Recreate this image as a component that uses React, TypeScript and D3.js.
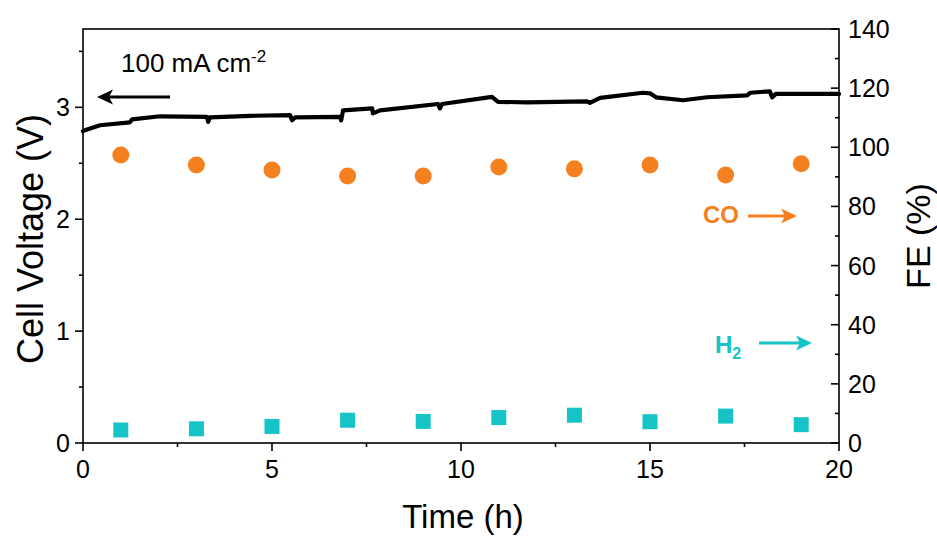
import React from "react";
import * as d3 from "d3";

// ---- data ----
const sampleTimes = [1, 3, 5, 7, 9, 11, 13, 15, 17, 19];
const feCO = [97.4, 94.0, 92.3, 90.3, 90.3, 93.3, 92.7, 94.0, 90.6, 94.4];
const feH2 = [4.4, 4.8, 5.6, 7.7, 7.3, 8.6, 9.4, 7.2, 9.1, 6.2];

const voltTime = [0, 0.05, 0.45, 1.24, 1.3, 2.04, 3.28, 3.31, 3.36, 4.42, 5.48, 5.53, 5.61, 6.8, 6.83, 6.88, 7.65, 7.67, 7.86, 9.39, 9.44, 9.5, 10.82, 10.98, 11.75, 13.33, 13.41, 13.68, 14.81, 15.0, 15.16, 15.87, 16.51, 17.57, 17.65, 18.17, 18.23, 18.33, 20];
const voltValue = [2.786, 2.795, 2.84, 2.866, 2.893, 2.92, 2.915, 2.87, 2.91, 2.924, 2.93, 2.884, 2.91, 2.915, 2.884, 2.973, 2.99, 2.946, 2.973, 3.03, 2.99, 3.03, 3.094, 3.049, 3.045, 3.054, 3.04, 3.085, 3.13, 3.125, 3.089, 3.063, 3.09, 3.107, 3.13, 3.143, 3.089, 3.12, 3.12];

const xMajorTicks = [0, 5, 10, 15, 20];
const xMinorTicks = [2.5, 7.5, 12.5, 17.5];
const yLeftMajor = [0, 1, 2, 3];
const yLeftMinor = [0.5, 1.5, 2.5, 3.5];
const yRightMajor = [0, 20, 40, 60, 80, 100, 120, 140];
const yRightMinor = [10, 30, 50, 70, 90, 110, 130];

const ORANGE = "#F5801F";
const CYAN = "#16C4C7";
const FONT = "Arial, 'Liberation Sans', sans-serif";

function Arrow({ x1, x2, y, color }: { x1: number; x2: number; y: number; color: string }) {
  // horizontal arrow from x1 (tail) to x2 (tip)
  const dir = Math.sign(x2 - x1);
  const hl = 16, hw = 7.5, notch = 4;
  const base = x2 - dir * hl;
  return (
    <g>
      <line x1={x1} y1={y} x2={base + dir * notch} y2={y} stroke={color} strokeWidth={2.8} />
      <path
        d={`M${x2},${y} L${base},${y - hw} L${base + dir * notch},${y} L${base},${y + hw} Z`}
        fill={color}
      />
    </g>
  );
}

export default function App() {
  const L = 83, R = 839, T = 29, B = 443;
  const x = d3.scaleLinear().domain([0, 20]).range([L, R]);
  const yL = d3.scaleLinear().domain([0, 3.7]).range([B, T]);
  const yR = d3.scaleLinear().domain([0, 140]).range([B, T]);

  const line = d3
    .line<number>()
    .x((_, i) => x(voltTime[i]))
    .y((d) => yL(d));

  const tickFs = 25;

  return (
    <svg
      width={937}
      height={537}
      style={{ position: "absolute", left: 0, top: 0, background: "#fff" }}
      fontFamily={FONT}
    >
      {/* voltage line */}
      <path d={line(voltValue) || ""} fill="none" stroke="#000" strokeWidth={4.2} strokeLinejoin="round" strokeLinecap="round" />

      {/* CO circles */}
      {sampleTimes.map((t, i) => (
        <circle key={"co" + i} cx={x(t)} cy={yR(feCO[i])} r={8.5} fill={ORANGE} />
      ))}
      {/* H2 squares */}
      {sampleTimes.map((t, i) => (
        <rect key={"h2" + i} x={x(t) - 7.5} y={yR(feH2[i]) - 7.5} width={15} height={15} fill={CYAN} />
      ))}

      {/* frame */}
      <rect x={L} y={T} width={R - L} height={B - T} fill="none" stroke="#000" strokeWidth={1.6} />

      {/* bottom axis */}
      {xMajorTicks.map((t) => (
        <g key={"xm" + t}>
          <line x1={x(t)} x2={x(t)} y1={B} y2={B + 8} stroke="#000" strokeWidth={1.6} />
          <text x={x(t)} y={B + 35} fontSize={tickFs} textAnchor="middle">{t}</text>
        </g>
      ))}
      {xMinorTicks.map((t) => (
        <line key={"xn" + t} x1={x(t)} x2={x(t)} y1={B} y2={B + 4} stroke="#000" strokeWidth={1.6} />
      ))}

      {/* left axis */}
      {yLeftMajor.map((v) => (
        <g key={"lm" + v}>
          <line x1={L - 8} x2={L} y1={yL(v)} y2={yL(v)} stroke="#000" strokeWidth={1.6} />
          <text x={L - 13} y={yL(v) + 9} fontSize={tickFs} textAnchor="end">{v}</text>
        </g>
      ))}
      {yLeftMinor.map((v) => (
        <line key={"ln" + v} x1={L - 4} x2={L} y1={yL(v)} y2={yL(v)} stroke="#000" strokeWidth={1.6} />
      ))}

      {/* right axis */}
      {yRightMajor.map((v) => (
        <g key={"rm" + v}>
          <line x1={R - 8} x2={R} y1={yR(v)} y2={yR(v)} stroke="#000" strokeWidth={1.6} />
          <text x={R + 9} y={yR(v) + 9} fontSize={tickFs} textAnchor="start">{v}</text>
        </g>
      ))}
      {yRightMinor.map((v) => (
        <line key={"rn" + v} x1={R - 4} x2={R} y1={yR(v)} y2={yR(v)} stroke="#000" strokeWidth={1.6} />
      ))}

      {/* axis titles */}
      <text x={(L + R) / 2 + 2} y={528} fontSize={33} textAnchor="middle">Time (h)</text>
      <text transform={`translate(43, 239) rotate(-90)`} fontSize={36} textAnchor="middle">Cell Voltage (V)</text>
      <text transform={`translate(930, 236) rotate(-90)`} fontSize={34} textAnchor="middle">FE (%)</text>

      {/* annotations */}
      <text x={121} y={72} fontSize={26}>
        100 mA cm<tspan dy={-10} fontSize={17}>-2</tspan>
      </text>
      <Arrow x1={170} x2={97} y={97} color="#000" />

      <text x={703} y={223} fontSize={24} fontWeight="bold" fill={ORANGE}>CO</text>
      <Arrow x1={748} x2={797} y={216} color={ORANGE} />

      <text x={715} y={353} fontSize={24} fontWeight="bold" fill={CYAN}>
        H<tspan dy={6} fontSize={16}>2</tspan>
      </text>
      <Arrow x1={759} x2={812} y={343} color={CYAN} />
    </svg>
  );
}
